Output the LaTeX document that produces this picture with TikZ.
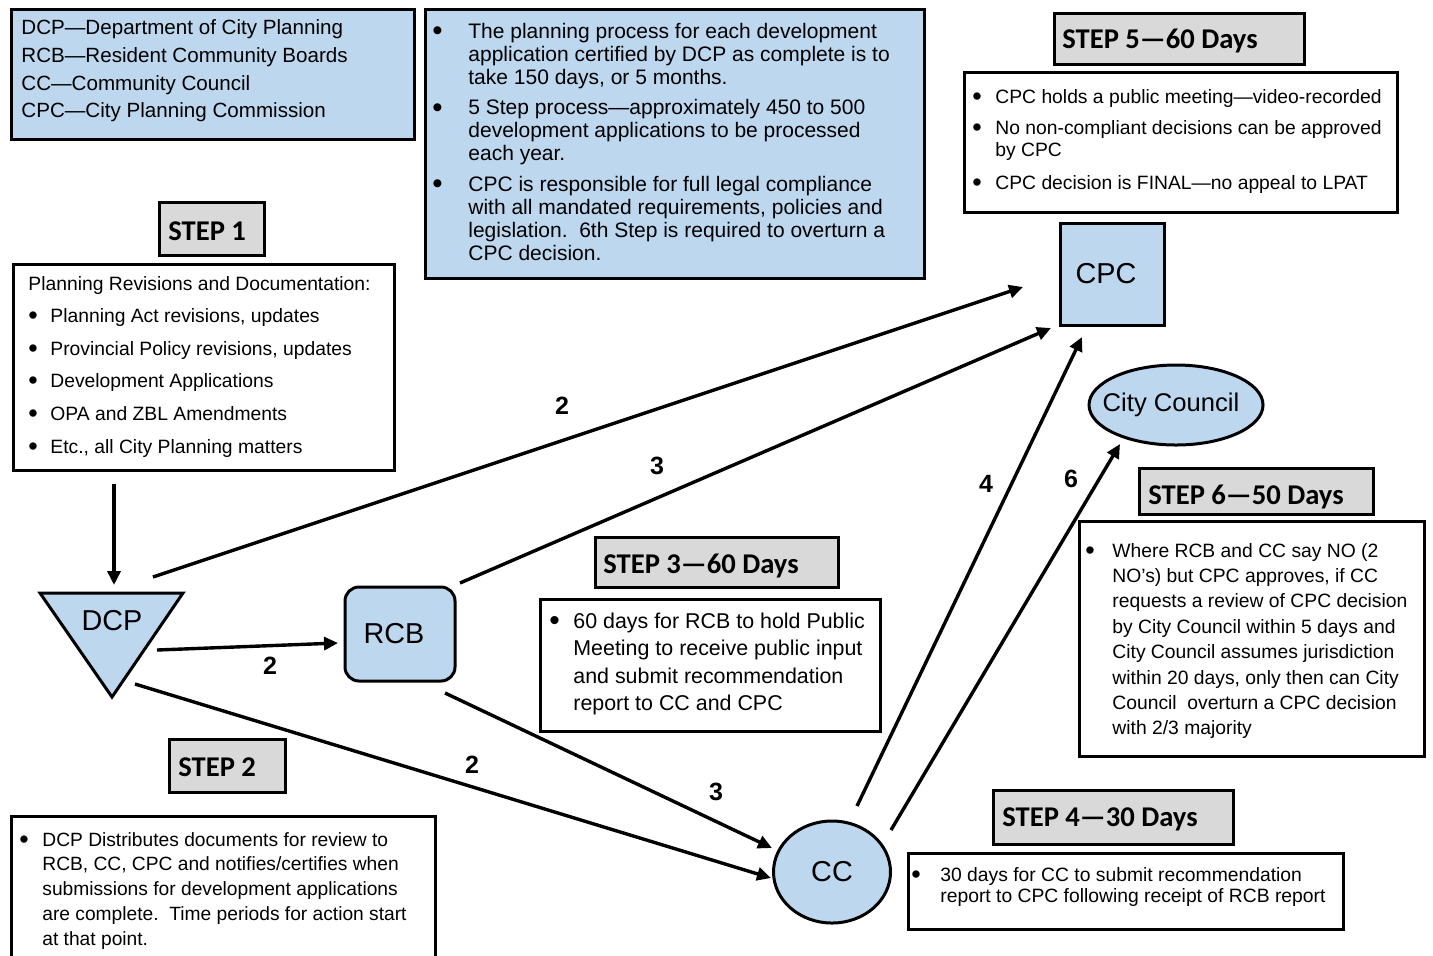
\documentclass[tikz,border=0pt]{standalone}
\usepackage{fontspec}
\setmainfont{Liberation Sans}
\newfontfamily\calib{Carlito}
\usetikzlibrary{arrows.meta,shapes.geometric}
\definecolor{lblue}{HTML}{BDD7EE}
\definecolor{lgray}{HTML}{D9D9D9}
\newcommand\bulsym{\raisebox{-0.11em}{\scalebox{1.4}{\textbullet}}}
\newcommand\bl[2]{\noindent\hangindent=#1\hangafter=1\makebox[#1][l]{\bulsym}#2\par}
\begin{document}
\begin{tikzpicture}[x=0.5pt,y=-0.5pt,
  box/.style={draw=black, line width=1.5pt, anchor=north west, inner sep=0pt},
  bluebox/.style={box, fill=lblue},
  head/.style={box, fill=lgray},
  whitebox/.style={box, fill=white},
  txt/.style={anchor=base west, inner sep=0pt, align=none},
  headtxt/.style={anchor=base west, inner sep=0pt, font=\calib\bfseries\fontsize{14.3}{16}\selectfont},
  shapelbl/.style={draw=black, line width=1.5pt, fill=lblue, inner sep=0pt, font=\fontsize{14.4}{16}\selectfont},
  arr/.style={line width=1.7pt, -{Triangle[length=7pt,width=6.5pt]}},
  elabel/.style={inner sep=0pt, font=\bfseries\fontsize{12.5}{14}\selectfont}]
\useasboundingbox (0,0) rectangle (1433,955);
\clip (0,0) rectangle (1433,955);

% ---------- legend ----------
\node[bluebox, minimum width=201.5pt, minimum height=65pt] (legend) at (10,8) {};
\node[txt, text width=195pt, font=\fontsize{10.3}{13.9}\selectfont] (legendtxt) at (21,34.5)
 {DCP—Department of City Planning\newline
  RCB—Resident Community Boards\newline
  CC—Community Council\newline
  CPC—City Planning Commission};

% ---------- info ----------
\node[bluebox, minimum width=249.5pt, minimum height=134.5pt] (info) at (424,8) {};
\node[txt, text width=244pt, font=\fontsize{10.5}{11.5}\selectfont] (infotxt) at (432,38.5)
 {\bl{18pt}{The planning process for each development\newline application certified by DCP as complete is to\newline take 150 days, or 5 months.}\vspace{3.7pt}
  \bl{18pt}{5 Step process—approximately 450 to 500\newline development applications to be processed\newline each year.}\vspace{3.7pt}
  \bl{18pt}{CPC is responsible for full legal compliance\newline with all mandated requirements, policies and\newline legislation.\ \ 6th Step is required to overturn a\newline CPC decision.}};

% ---------- step 5 ----------
\node[head, minimum width=125pt, minimum height=25.5pt] (s5head) at (1053,12) {};
\node[headtxt] (s5headtxt) at (1062,48) {STEP 5—60 Days};
\node[whitebox, minimum width=216.5pt, minimum height=70pt] (s5box) at (963,71) {};
\node[txt, text width=212pt, font=\fontsize{9.65}{11}\selectfont] (s5txt) at (972,103)
 {\bl{11.5pt}{CPC holds a public meeting—video-recorded}\vspace{4.5pt}
  \bl{11.5pt}{No non-compliant decisions can be approved\newline by CPC}\vspace{5.5pt}
  \bl{11.5pt}{CPC decision is FINAL—no appeal to LPAT}};

% ---------- step 1 ----------
\node[head, minimum width=52.5pt, minimum height=26.5pt] (s1head) at (158,201) {};
\node[headtxt] (s1headtxt) at (168,240) {STEP 1};
\node[whitebox, minimum width=190.5pt, minimum height=103pt] (s1box) at (12,263) {};
\node[txt, text width=185pt, font=\fontsize{9.65}{16.3}\selectfont] (s1txt) at (28,290)
 {\noindent Planning Revisions and Documentation:\par
  \bl{11pt}{Planning Act revisions, updates}
  \bl{11pt}{Provincial Policy revisions, updates}
  \bl{11pt}{Development Applications}
  \bl{11pt}{OPA and ZBL Amendments}
  \bl{11pt}{Etc., all City Planning matters}};

% ---------- step 2 ----------
\node[head, minimum width=58pt, minimum height=26.5pt] (s2head) at (168,738) {};
\node[headtxt] (s2headtxt) at (178,776) {STEP 2};
\node[whitebox, minimum width=212pt, minimum height=80pt] (s2box) at (10,815) {};
\node[txt, text width=205pt, font=\fontsize{9.6}{12.4}\selectfont] (s2txt) at (19,846)
 {\bl{11.5pt}{DCP Distributes documents for review to\newline RCB, CC, CPC and notifies/certifies when\newline submissions for development applications\newline are complete.\ \ Time periods for action start\newline at that point.}};

% ---------- step 3 ----------
\node[head, minimum width=121.5pt, minimum height=25pt] (s3head) at (594,536) {};
\node[headtxt] (s3headtxt) at (603,573) {STEP 3—60 Days};
\node[whitebox, minimum width=170pt, minimum height=66pt] (s3box) at (539,598) {};
\node[txt, text width=165pt, font=\fontsize{10.7}{13.75}\selectfont] (s3txt) at (549,628)
 {\bl{12pt}{60 days for RCB to hold Public\newline Meeting to receive public input\newline and submit recommendation\newline report to CC and CPC}};

% ---------- step 6 ----------
\node[head, minimum width=117pt, minimum height=23pt] (s6head) at (1138,467) {};
\node[headtxt] (s6headtxt) at (1148,504) {STEP 6—50 Days};
\node[whitebox, minimum width=172.5pt, minimum height=117.5pt] (s6box) at (1078,520) {};
\node[txt, text width=168pt, font=\fontsize{9.65}{12.7}\selectfont] (s6txt) at (1085,557)
 {\bl{13.5pt}{Where RCB and CC say NO (2\newline NO’s) but CPC approves, if CC\newline requests a review of CPC decision\newline by City Council within 5 days and\newline City Council assumes jurisdiction\newline within 20 days, only then can City\newline Council\ \ overturn a CPC decision\newline with 2/3 majority}};

% ---------- step 4 ----------
\node[head, minimum width=120pt, minimum height=27pt] (s4head) at (992,789) {};
\node[headtxt] (s4headtxt) at (1002,826) {STEP 4—30 Days};
\node[whitebox, minimum width=217.5pt, minimum height=38pt] (s4box) at (907,852) {};
\node[txt, text width=212pt, font=\fontsize{9.65}{10.5}\selectfont] (s4txt) at (911,881)
 {\bl{14.5pt}{30 days for CC to submit recommendation\newline report to CPC following receipt of RCB report}};

% ---------- process shapes ----------
\filldraw[fill=lblue, draw=black, line width=1.5pt, line join=miter] (40,593) -- (183,593) -- (112,697) -- cycle;
\node[inner sep=0pt, font=\fontsize{14.4}{16}\selectfont] (dcp) at (112,621) {DCP};
\node[shapelbl, rounded corners=7pt, minimum width=55pt, minimum height=47pt, text width=48pt, align=center] (rcb) at (400,634) {\hspace*{-6pt}RCB};
\node[shapelbl, ellipse, minimum width=58.5pt, minimum height=51pt] (cc) at (832,872) {CC};
\node[shapelbl, minimum width=52pt, minimum height=51pt, text width=46pt, align=center] (cpc) at (1112,274) {\hspace*{-6pt}CPC\\[2pt]};
\node[shapelbl, ellipse, minimum width=87pt, minimum height=40pt,
  label={[inner sep=0pt, xshift=-2.5pt, font=\fontsize{12.8}{14}\selectfont]center:City Council}] (city) at (1176,405) {};

% ---------- connector ends ----------
\coordinate (s1out) at (114,484);
\coordinate (dcpin) at (114,585);
\coordinate (dcpA) at (153,577);
\coordinate (cpcA) at (1023,287);
\coordinate (rcbA) at (460,583);
\coordinate (cpcB) at (1051,328);
\coordinate (dcpB) at (157,650);
\coordinate (rcbin) at (338,643);
\coordinate (dcpC) at (135,684);
\coordinate (ccinA) at (771,878);
\coordinate (rcbB) at (445,693);
\coordinate (ccinB) at (772,848);
\coordinate (ccA) at (857,806);
\coordinate (cpcC) at (1082,337);
\coordinate (ccB) at (891,830);
\coordinate (cityin) at (1120,444);

\draw[arr] (s1out) -- (dcpin);
\draw[arr] (dcpA) -- (cpcA);
\draw[arr] (rcbA) -- (cpcB);
\draw[arr] (dcpB) -- (rcbin);
\draw[arr] (dcpC) -- (ccinA);
\draw[arr] (rcbB) -- (ccinB);
\draw[arr] (ccA) -- (cpcC);
\draw[arr] (ccB) -- (cityin);

% ---------- connector labels ----------
\node[elabel] (l1) at (562,406) {2};
\node[elabel] (l2) at (657,466) {3};
\node[elabel] (l3) at (270,666) {2};
\node[elabel] (l4) at (472,765) {2};
\node[elabel] (l5) at (716,792) {3};
\node[elabel] (l6) at (986,484) {4};
\node[elabel] (l7) at (1071,479) {6};
\end{tikzpicture}
\end{document}
